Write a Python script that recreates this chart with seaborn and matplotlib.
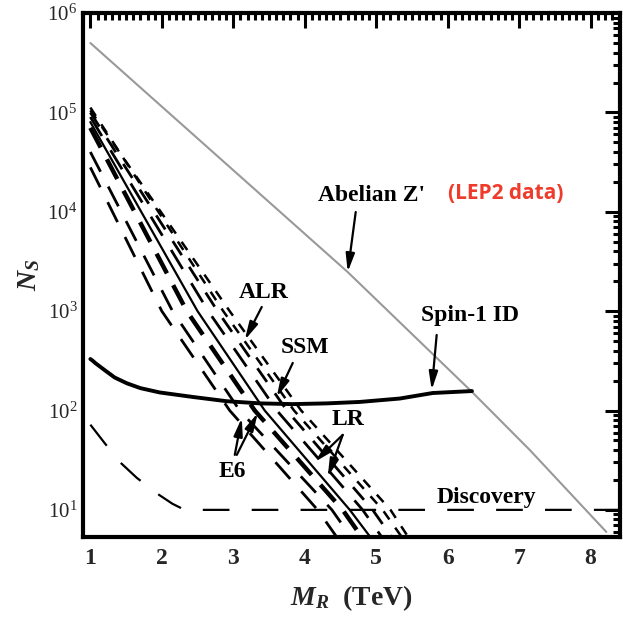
import numpy as np
import pandas as pd
import matplotlib
matplotlib.use("Agg")
import matplotlib.pyplot as plt
import seaborn as sns
from matplotlib.ticker import LogLocator, MultipleLocator, NullFormatter

# ---------------- data ----------------
abelian_m = [1.0, 4.6, 6.34, 7.15, 8.22]
abelian_n = [5.0e5, 2.48e3, 154, 40, 6.0]

spin1_m = [1.0, 1.03, 1.07, 1.2, 1.34, 1.51, 1.7, 1.97, 2.43, 2.91, 3.37, 3.83, 4.31,
           4.77, 5.33, 5.79, 6.34]
spin1_n = [330, 318, 300, 255, 215, 188, 168, 152, 137, 124, 118, 116, 118,
           122, 132, 150, 157]

disc_m = [1.0, 1.2, 1.41, 1.65, 1.94, 2.15, 2.32, 8.5]
disc_n = [72, 47, 30.4, 21, 14.5, 11.5, 10, 10]

# steep model curves: M_R (TeV) at N_S = start(x=1), 1e3, 1e2, 1e1, 5.3
n_levels = [1e3, 1e2, 1e1, 5.3]
e6a_start, e6a_m = 2.8e4, [2.00, 2.95, 4.18, 4.45]
e6b_start, e6b_m = 4.0e4, [2.15, 3.09, 4.38, 4.65]
e6c_start, e6c_m = 7.0e4, [2.35, 3.30, 4.53, 4.80]
lr1_start, lr1_m = 8.0e4, [2.50, 3.44, 4.63, 4.92]
lr2_start, lr2_m = 9.0e4, [2.65, 3.61, 4.81, 5.08]
ssm_start, ssm_m = 1.0e5, [2.78, 3.75, 4.95, 5.22]
alr1_start, alr1_m = 1.12e5, [2.86, 3.85, 5.09, 5.36]
alr2_start, alr2_m = 1.05e5, [2.95, 3.95, 5.20, 5.45]

# ---------------- figure ----------------
sns.set_theme(style="white")
plt.rcParams['font.family'] = ['Liberation Serif', 'DejaVu Serif']
plt.rcParams['mathtext.fontset'] = 'custom'
plt.rcParams['mathtext.rm'] = 'Liberation Serif:bold'
plt.rcParams['mathtext.bf'] = 'Liberation Serif:bold'
plt.rcParams['mathtext.it'] = 'Liberation Serif:italic:bold'

fig = plt.figure(figsize=(6.23, 6.24), dpi=100)
ax = fig.add_axes([0.133, 0.139, 0.862, 0.840])

def draw(m, n, **kw):
    sns.lineplot(x=m, y=n, ax=ax, sort=False, estimator=None, **kw)

def curve(start, ms):
    return [1.0] + list(ms), [start] + n_levels

draw(abelian_m, abelian_n, color="#999999", lw=1.5)
draw(spin1_m, spin1_n, color="black", lw=2.8)
draw(disc_m, disc_n, color="black", lw=1.6, linestyle=(0, (12, 10)))

draw(*curve(e6a_start, e6a_m), color="black", lw=2.0, linestyle=(0, (8, 6)))
draw(*curve(e6b_start, e6b_m), color="black", lw=2.0, linestyle=(0, (8, 6)))
draw(*curve(e6c_start, e6c_m), color="black", lw=3.2, linestyle=(0, (5, 3)))
draw(*curve(lr1_start, lr1_m), color="black", lw=1.6)
draw(*curve(lr2_start, lr2_m), color="black", lw=2.0, linestyle=(0, (8, 6)))
draw(*curve(ssm_start, ssm_m), color="black", lw=2.0, linestyle=(0, (6, 5)))
draw(*curve(alr1_start, alr1_m), color="black", lw=1.8, linestyle=(0, (4, 4)))
draw(*curve(alr2_start, alr2_m), color="black", lw=1.8, linestyle=(0, (4, 4)))

ax.set_yscale("log")
ax.set_xlim(0.895, 8.41)
ax.set_ylim(5.3, 1e6)

# ticks
ax.xaxis.set_major_locator(MultipleLocator(1))
ax.xaxis.set_minor_locator(MultipleLocator(0.1))
ax.yaxis.set_major_locator(LogLocator(base=10, numticks=10))
ax.yaxis.set_minor_locator(LogLocator(base=10, subs=np.arange(2, 10), numticks=20))
ax.yaxis.set_minor_formatter(NullFormatter())
ax.tick_params(which="both", direction="in", top=True, right=True, width=2.2, color="black")
ax.tick_params(which="major", length=11)
ax.tick_params(which="minor", length=5)
ax.tick_params(axis="x", labelsize=17, pad=8)
ax.tick_params(axis="y", labelsize=15, pad=4)
for lab in ax.get_xticklabels():
    lab.set_fontweight("bold")
for sp in ax.spines.values():
    sp.set_linewidth(3.0)
    sp.set_color("black")

ax.set_xlabel(r"$M_R$  (TeV)", fontsize=20, fontweight="bold", labelpad=10)
ax.set_ylabel(r"$N_S$", fontsize=20, labelpad=4)

# annotations
tk = dict(fontsize=17, fontweight="bold", ha="center", va="center", color="black")
ap = dict(arrowstyle="-|>,head_length=0.9,head_width=0.22", color="black", lw=1.6,
          shrinkA=0, shrinkB=0)

def pt(px, py):
    # pixel position of a label in the reference -> data coordinates
    x = 1 + (px - 90.5) / 71.5
    y = 10 ** (6 - (py - 13) / 99.4)
    return x, y

ax.text(*pt(372, 195), "Abelian Z'", **tk)
ax.annotate("", xy=pt(348, 272), xytext=pt(356, 212), arrowprops=ap)
ax.text(*pt(506, 193), "(LEP2 data)", fontsize=15, fontweight="bold", color="#ef3b2c",
        ha="center", va="center", family=["Open Sans", "DejaVu Sans"])
ax.text(*pt(264, 293), "ALR", **tk)
ax.annotate("", xy=pt(245, 340), xytext=pt(262, 307), arrowprops=ap)
ax.text(*pt(305, 348), "SSM", **tk)
ax.annotate("", xy=pt(277, 397), xytext=pt(293, 363), arrowprops=ap)
ax.text(*pt(470, 316), "Spin-1 ID", **tk)
ax.annotate("", xy=pt(432, 390), xytext=pt(437, 335), arrowprops=ap)
ax.text(*pt(348, 420), "LR", **tk)
ax.annotate("", xy=pt(315, 462), xytext=pt(343, 435), arrowprops=ap)
ax.annotate("", xy=pt(328, 477), xytext=pt(343, 435), arrowprops=ap)
ax.text(*pt(233, 472), "E6", **tk)
ax.annotate("", xy=pt(242, 418), xytext=pt(235, 455), arrowprops=ap)
ax.annotate("", xy=pt(258, 413), xytext=pt(237, 455), arrowprops=ap)
ax.text(*pt(487, 498), "Discovery", **tk)

fig.savefig("out.png", dpi=100)
